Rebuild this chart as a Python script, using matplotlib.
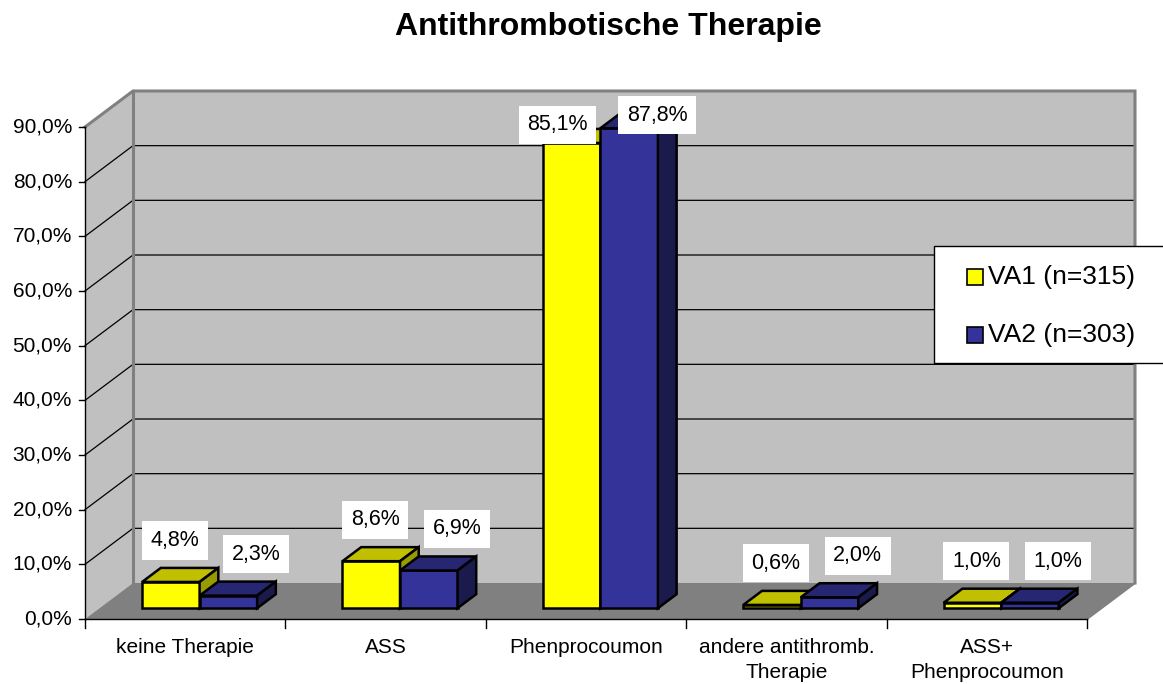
import matplotlib
matplotlib.use("Agg")
import matplotlib.pyplot as plt
from matplotlib.patches import Polygon, Rectangle

plt.rcParams['font.family'] = ['Liberation Sans', 'DejaVu Sans']

# Daten
kategorien = ["keine Therapie", "ASS", "Phenprocoumon",
              "andere antithromb.\nTherapie", "ASS+\nPhenprocoumon"]
va1 = [4.8, 8.6, 85.1, 0.6, 1.0]
va2 = [2.3, 6.9, 87.8, 2.0, 1.0]
serien = ["VA1 (n=315)", "VA2 (n=303)"]
y_ticks = [0, 10, 20, 30, 40, 50, 60, 70, 80, 90]

# Farben (vorne, oben, seite)
farben = [("#ffff00", "#c0c000", "#999900"),
          ("#333399", "#262673", "#1a1a4d")]

# 3D Tiefe in Dateneinheiten
DX = 0.2395
DY = 6.585
ymax = 90
n = len(kategorien)
w = 0.287          # Balkenbreite
d0, d1 = 0.30, 0.69  # Tiefe der Balken

def p(x, y, d):
	return (x + d * DX, y + d * DY)

fig = plt.figure(figsize=(11.63, 6.84), dpi=100)
ax = fig.add_axes([0, 0, 1, 1])
ax.set_xlim(-85 / 200.4, (1163 - 85) / 200.4)
ax.set_ylim((619 - 684) / 5.4667, 619 / 5.4667)
ax.axis("off")

# Wände und Boden
wand = "#c0c0c0"
rand = "#808080"
ax.add_patch(Polygon([p(0, 0, 1), p(n, 0, 1), p(n, ymax, 1), p(0, ymax, 1)],
                     closed=True, fc=wand, ec="none", zorder=1))
ax.add_patch(Polygon([p(0, 0, 0), p(0, 0, 1), p(0, ymax, 1), p(0, ymax, 0)],
                     closed=True, fc=wand, ec="none", zorder=1))
ax.add_patch(Polygon([p(0, 0, 0), p(n, 0, 0), p(n, 0, 1), p(0, 0, 1)],
                     closed=True, fc="#808080", ec="none", zorder=1))

# Gitterlinien
for t in y_ticks[1:-1]:
	a, b, c = p(0, t, 0), p(0, t, 1), p(n, t, 1)
	ax.plot([a[0], b[0], c[0]], [a[1], b[1], c[1]], color="black", lw=0.9, zorder=2)

# Rahmen der Wände
a, b, c, e = p(0, ymax, 0), p(0, ymax, 1), p(n, ymax, 1), p(n, 0, 1)
ax.plot([a[0], b[0], c[0], e[0]], [a[1], b[1], c[1], e[1]], color=rand, lw=2.2,
        zorder=2, solid_joinstyle="miter")
f = p(0, 0, 1)
ax.plot([b[0], f[0]], [b[1], f[1]], color=rand, lw=2.2, zorder=2)
g = p(n, 0, 0)
ax.plot([g[0], e[0]], [g[1], e[1]], color=rand, lw=1.5, zorder=2)

# Achsen
ax.plot([0, 0], [0, ymax], color="black", lw=1.0, zorder=3)
ax.plot([0, n], [0, 0], color="black", lw=1.0, zorder=3)
for t in y_ticks:
	ax.plot([-6 / 200.4, 0], [t, t], color="black", lw=1.0, zorder=3)
	ax.text(-13 / 200.4, t, f"{t:.1f}%".replace(".", ","), ha="right", va="center",
	        fontsize=15)
for i in range(n + 1):
	ax.plot([i, i], [0, -9 / 5.4667], color="black", lw=1.0, zorder=3)
for i, k in enumerate(kategorien):
	ax.text(i + 0.5, -3.4, k, ha="center", va="top", fontsize=15, linespacing=1.4)

# Balken
def balken(x0, x1, h, farbe, z):
	vorne, oben, seite = farbe
	kw = dict(closed=True, ec="black", lw=1.8, zorder=z, joinstyle="miter")
	ax.add_patch(Polygon([p(x0, 0, d0), p(x1, 0, d0), p(x1, h, d0), p(x0, h, d0)], fc=vorne, **kw))
	ax.add_patch(Polygon([p(x0, h, d0), p(x1, h, d0), p(x1, h, d1), p(x0, h, d1)], fc=oben, **kw))
	ax.add_patch(Polygon([p(x1, 0, d0), p(x1, 0, d1), p(x1, h, d1), p(x1, h, d0)], fc=seite, **kw))

for i in range(n):
	for s, werte in enumerate([va1, va2]):
		x0 = i + 0.5 - w + s * w
		balken(x0, x0 + w, werte[i], farben[s], 4 + i * 2 + s)

# Beschriftungen
for i in range(n):
	for s, werte in enumerate([va1, va2]):
		v = werte[i]
		ly = v + 7.6
		dx = 0.02 if s == 0 else 0.14
		if ly > 88:
			# oben an der Wand nach unten geschoben
			ly = v + (3.3 if s == 0 else 2.4)
			if s == 0:
				dx = -0.07
		cx = i + 0.5 - w / 2 + s * w + dx
		ax.text(cx + d0 * DX, ly + d0 * DY, f"{v:.1f}%".replace(".", ","), ha="center",
		        va="center", fontsize=15.5, zorder=20,
		        bbox=dict(boxstyle="square,pad=0.4", fc="white", ec="none"))

# Legende
ax.add_patch(Rectangle((934 / 1163, 1 - 363 / 684), 240 / 1163, 117 / 684,
                       transform=ax.transAxes, fc="white", ec="black", lw=1.0,
                       zorder=30, clip_on=False))
for s, name in enumerate(serien):
	yc = 277 + s * 58
	ax.add_patch(Rectangle((967 / 1163, 1 - (yc + 8) / 684), 16 / 1163, 16 / 684,
	                       transform=ax.transAxes, fc=farben[s][0], ec="black",
	                       lw=1.2, zorder=31))
	ax.text(988 / 1163, 1 - yc / 684, name, transform=ax.transAxes, ha="left",
	        va="center", fontsize=19, zorder=31)

fig.text(608 / 1163, 1 - 27 / 684, "Antithrombotische Therapie", ha="center",
         va="center", fontsize=23, fontweight="bold")

fig.savefig("out.png", dpi=100, facecolor="white")
